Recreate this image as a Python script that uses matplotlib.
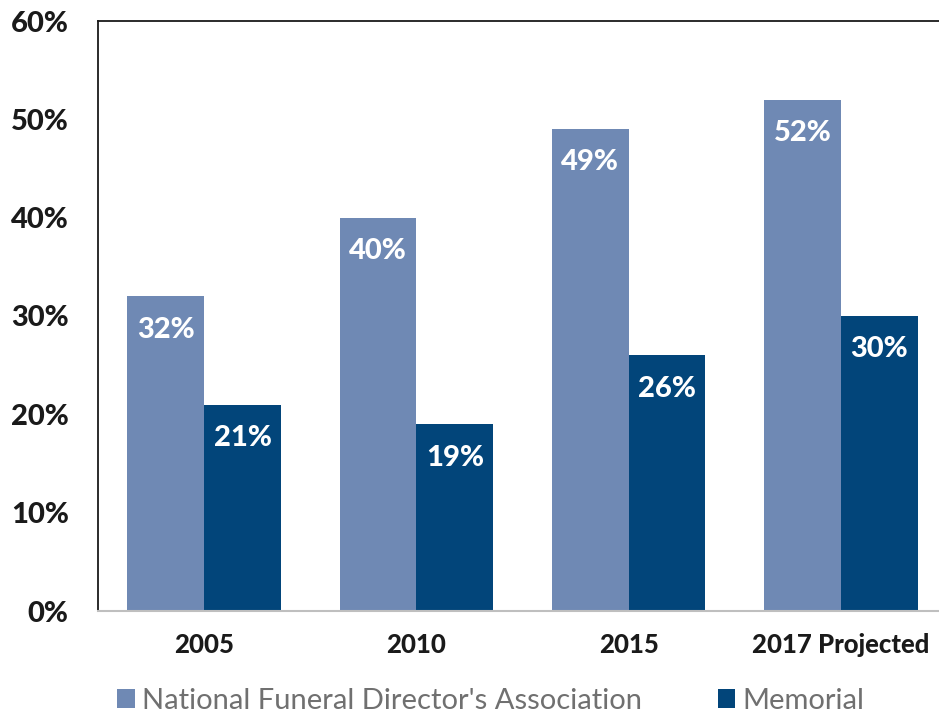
import matplotlib
matplotlib.use("Agg")
import matplotlib.pyplot as plt
import numpy as np

categories = ["2005", "2010", "2015", "2017 Projected"]
nfda = [32, 40, 49, 52]
memorial = [21, 19, 26, 30]
series_names = ["National Funeral Director's Association", "Memorial"]
yticks = [0, 10, 20, 30, 40, 50, 60]

c1 = "#6f89b4"
c2 = "#02457a"

plt.rcParams['font.family'] = ['Lato', 'DejaVu Sans']

fig = plt.figure(figsize=(9.39, 7.18), dpi=100)
ax = fig.add_axes([98/939, 1-611/718, (947-98)/939, (611-21)/718])

x = np.arange(len(categories))
w = 0.362
b1 = ax.bar(x - w/2, nfda, w, color=c1, label=series_names[0])
b2 = ax.bar(x + w/2, memorial, w, color=c2, label=series_names[1])

for bars, vals in ((b1, nfda), (b2, memorial)):
    for r, v in zip(bars, vals):
        ax.annotate(f"{v}%", (r.get_x() + r.get_width()/2, v),
                    xytext=(0, -24), textcoords="offset points",
                    ha="center", va="center", color="white",
                    fontsize=21, fontweight="black")

ax.set_xlim(-0.5, 3.5)
ax.set_ylim(0, 60)
ax.set_yticks(yticks)
ax.set_yticklabels([f"{t}%" for t in yticks], fontsize=21, fontweight="black", color="#1a1a1a")
ax.set_xticks(x)
ax.set_xticklabels(categories, fontsize=18.5, fontweight="black", color="#1a1a1a")
ax.tick_params(axis="both", length=0)
ax.tick_params(axis="y", pad=21)
ax.tick_params(axis="x", pad=16)

ax.spines["right"].set_visible(False)
ax.spines["top"].set_color("#1a1a1a")
ax.spines["top"].set_linewidth(1.3)
ax.spines["left"].set_color("#1a1a1a")
ax.spines["left"].set_linewidth(1.3)
ax.spines["bottom"].set_color("#bfbfbf")
ax.spines["bottom"].set_linewidth(1.5)

leg = fig.legend(handles=[b1, b2], loc="center", bbox_to_anchor=(491/939, 1-701/718),
                 ncol=2, frameon=False, fontsize=21, handlelength=0.6, handleheight=0.6,
                 handletextpad=0.25, columnspacing=2.6)
for t in leg.get_texts():
    t.set_color("#707070")

fig.savefig("out.png", dpi=100)
